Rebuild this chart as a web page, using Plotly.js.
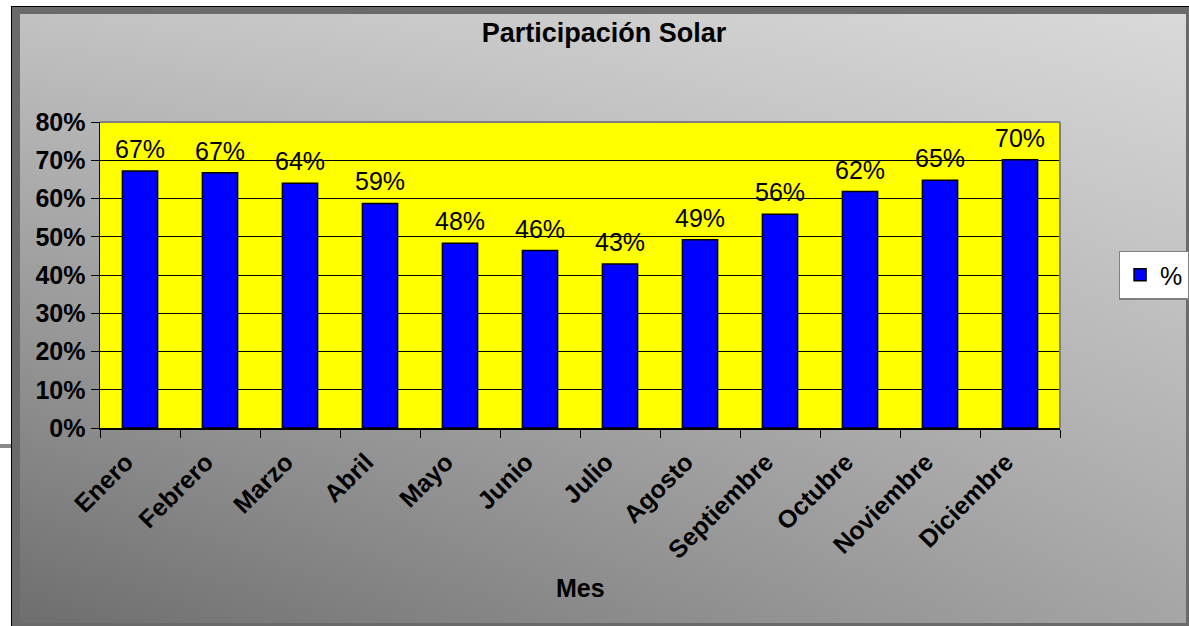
<!DOCTYPE html>
<html>
<head>
<meta charset="utf-8">
<script src="https://cdn.plot.ly/plotly-3.0.1.min.js"></script>
<style>
  html, body { margin: 0; padding: 0; width: 1189px; height: 626px; overflow: hidden; background: #ffffff; }
  #frame { position: absolute; left: 11px; top: 6px; width: 1178px; height: 620px; box-sizing: border-box;
           border-left: 1px solid #000; border-top: 1px solid #000; }
  #inner { position: absolute; left: 0; top: 0; right: 0; bottom: 0; box-sizing: border-box;
           border-left: 8px solid #6a6a6a; border-top: 7px solid #6a6a6a;
           border-right: 3px solid #6a6a6a; border-bottom: 3px solid #6a6a6a;
           background: linear-gradient(to right, rgba(255,255,255,0) 0%, rgba(255,255,255,0.38) 100%),
                       linear-gradient(to bottom, #c2c2c2 0%, #6e6e6e 100%); }
  #stub { position: absolute; left: 0; top: 444px; width: 11px; height: 4px; background: #8a8a8a; }
  #chart { position: absolute; left: 0; top: 0; width: 1189px; height: 626px; }
</style>
</head>
<body>
<div id="frame"><div id="inner"></div></div>
<div id="stub"></div>
<div id="chart"></div>
<script>
const months = ["Enero","Febrero","Marzo","Abril","Mayo","Junio","Julio","Agosto","Septiembre","Octubre","Noviembre","Diciembre"];
const share = [0.672, 0.667, 0.640, 0.587, 0.483, 0.464, 0.429, 0.492, 0.559, 0.618, 0.648, 0.701];
const seriesName = "%";
const yTicks = [0, 0.1, 0.2, 0.3, 0.4, 0.5, 0.6, 0.7, 0.8];
const yTickText = ["0%","10%","20%","30%","40%","50%","60%","70%","80%"];

const FONT = '"Liberation Sans", Arial, Helvetica, sans-serif';

const trace = {
  type: 'bar',
  x: months,
  y: share,
  name: seriesName,
  marker: { color: '#0000ff', line: { color: '#000000', width: 1.5 } },
  hoverinfo: 'x+y'
};

const labelAnn = months.map((m, i) => ({
  x: m, y: share[i], xref: 'x', yref: 'y',
  text: Math.round(share[i] * 100) + '%',
  showarrow: false, yanchor: 'bottom', yshift: 6,
  font: { family: FONT, size: 25, color: '#000' }
}));

const layout = {
  width: 1189, height: 626,
  margin: { l: 100, r: 129, t: 122, b: 198, autoexpand: false },
  paper_bgcolor: 'rgba(0,0,0,0)',
  plot_bgcolor: '#ffff00',
  bargap: 0.56,
  font: { family: FONT, color: '#000' },
  title: {
    text: 'Participación Solar',
    font: { family: FONT, size: 27, weight: 'bold', color: '#000' },
    xref: 'container', x: 0.508, xanchor: 'center',
    yref: 'container', y: 0.948, yanchor: 'middle'
  },
  xaxis: {
    type: 'category',
    tickangle: -45,
    tickfont: { family: FONT, size: 25, weight: 'bold', color: '#000' },
    ticks: 'outside', ticklen: 8, tickcolor: '#000', tickwidth: 1,
    tickson: 'boundaries',
    ticklabelshift: -14,
    ticklabelstandoff: 8,
    showline: true, linecolor: '#000', linewidth: 1.5,
    showgrid: false, zeroline: false,
    automargin: false
  },
  yaxis: {
    range: [0, 0.8],
    tickvals: yTicks, ticktext: yTickText,
    tickfont: { family: FONT, size: 25, weight: 'bold', color: '#000' },
    ticks: 'outside', ticklen: 8, tickcolor: '#000', tickwidth: 1,
    showline: true, linecolor: '#000', linewidth: 1.5,
    showgrid: true, gridcolor: '#000', gridwidth: 1,
    zeroline: false, automargin: false
  },
  showlegend: true,
  legend: {
    x: 1.061, xanchor: 'left', y: 0.5, yanchor: 'middle',
    bgcolor: '#ffffff', bordercolor: '#808080', borderwidth: 1.5,
    font: { family: FONT, size: 25, color: '#000' },
    itemwidth: 30
  },
  shapes: [
    { type: 'line', xref: 'paper', yref: 'paper', x0: 0, x1: 1, y0: 1, y1: 1, line: { color: '#808080', width: 2 } },
    { type: 'line', xref: 'paper', yref: 'paper', x0: 1, x1: 1, y0: 0, y1: 1, line: { color: '#808080', width: 2 } }
  ],
  annotations: labelAnn.concat([{
    text: 'Mes', xref: 'paper', yref: 'paper', x: 0.5, y: -0.523,
    xanchor: 'center', yanchor: 'middle', showarrow: false,
    font: { family: FONT, size: 25, weight: 'bold', color: '#000' }
  }])
};

Plotly.newPlot('chart', [trace], layout, { displayModeBar: false, staticPlot: true });
</script>
</body>
</html>
